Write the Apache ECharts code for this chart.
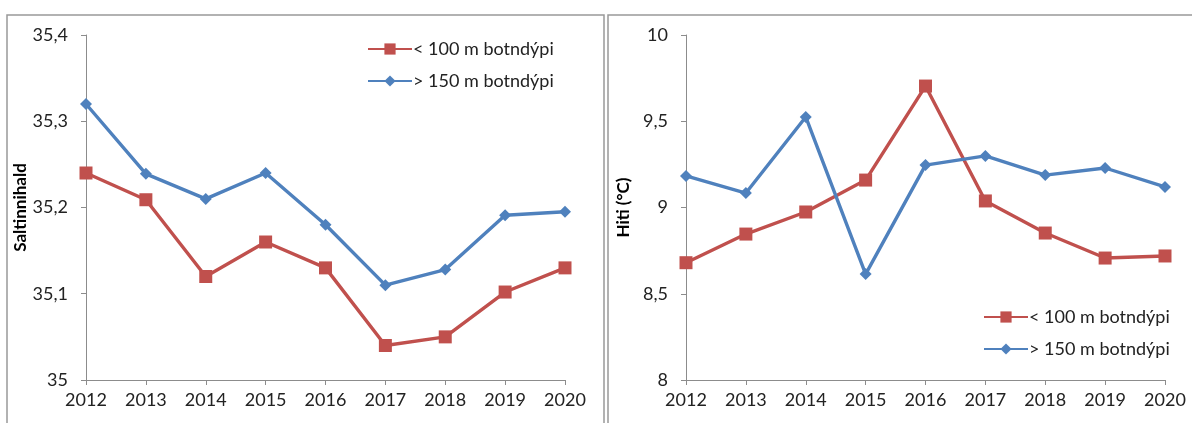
<!DOCTYPE html>
<html><head><meta charset="utf-8">
<script src="https://cdn.jsdelivr.net/npm/echarts@6/dist/echarts.min.js"></script>
<style>html,body{margin:0;padding:0;background:#fff}#c{width:1192px;height:423px}</style>
</head><body><div id="c"></div>
<script>
const years = ['2012','2013','2014','2015','2016','2017','2018','2019','2020'];
const salShallow = [35.24, 35.209, 35.12, 35.16, 35.13, 35.04, 35.05, 35.102, 35.13];
const salDeep = [35.32, 35.239, 35.21, 35.24, 35.18, 35.11, 35.128, 35.191, 35.195];
const tempShallow = [8.68, 8.846, 8.974, 9.159, 9.704, 9.038, 8.852, 8.707, 8.719];
const tempDeep = [9.183, 9.084, 9.525, 8.614, 9.246, 9.299, 9.188, 9.229, 9.119];
const nameShallow = '< 100 m botndýpi';
const nameDeep = '> 150 m botndýpi';

const RED = '#C0504D', BLUE = '#4F81BD';
const FONT = 'Lato';
const comma = v => String(+v.toFixed(2)).replace('.', ',');

const chart = echarts.init(document.getElementById('c'));
const axisLine = {show: true, lineStyle: {color: '#8c8c8c', width: 1}};
function xAx(i) {
  return {type: 'category', gridIndex: i, data: years, boundaryGap: false,
    axisLine, axisTick: {show: true, length: 5, lineStyle: {color: '#8c8c8c'}},
    axisLabel: {color: '#222', fontFamily: FONT, fontSize: 18, margin: 11},
    splitLine: {show: false}};
}
function yAx(i, min, max, interval, name, gap) {
  return {type: 'value', gridIndex: i, min, max, interval,
    name, nameLocation: 'middle', nameGap: gap,
    nameTextStyle: {fontFamily: FONT, fontWeight: 'bold', fontSize: 17, color: '#000'},
    axisLine, axisTick: {show: true, length: 5, lineStyle: {color: '#8c8c8c'}},
    axisLabel: {color: '#222', fontFamily: FONT, fontSize: 18, margin: 18, formatter: comma},
    splitLine: {show: false}};
}
function ser(name, data, i, color, symbol, size) {
  return {type: 'line', name, data, xAxisIndex: i, yAxisIndex: i,
    symbol, symbolSize: size, showSymbol: true,
    lineStyle: {color, width: 3.4}, itemStyle: {color}, animation: false};
}
const legendBase = {orient: 'vertical', itemWidth: 44, itemHeight: 14, itemGap: 14,
  textStyle: {fontFamily: FONT, fontSize: 18, color: '#222', padding: [0, 0, 0, -4]},
  data: [nameShallow, nameDeep]};

chart.setOption({
  animation: false,
  graphic: [
    {type: 'rect', shape: {x: 7, y: 15, width: 597, height: 430}, style: {fill: 'none', stroke: '#999', lineWidth: 1.5}},
    {type: 'rect', shape: {x: 608, y: 15, width: 600, height: 430}, style: {fill: 'none', stroke: '#999', lineWidth: 1.5}}
  ],
  grid: [
    {left: 86, right: 627, top: 35, bottom: 43},
    {left: 686, right: 27, top: 35, bottom: 43}
  ],
  xAxis: [xAx(0), xAx(1)],
  yAxis: [yAx(0, 35, 35.4, 0.1, 'Saltinnihald', 53), yAx(1, 8, 10, 0.5, 'Hiti (°C)', 54)],
  legend: [
    Object.assign({}, legendBase, {left: 362, top: 35}),
    Object.assign({}, legendBase, {left: 978, top: 303})
  ],
  series: [
    ser(nameShallow, salShallow, 0, RED, 'rect', 13),
    ser(nameDeep, salDeep, 0, BLUE, 'diamond', 12),
    ser(nameShallow, tempShallow, 1, RED, 'rect', 13),
    ser(nameDeep, tempDeep, 1, BLUE, 'diamond', 12)
  ]
});
</script></body></html>
